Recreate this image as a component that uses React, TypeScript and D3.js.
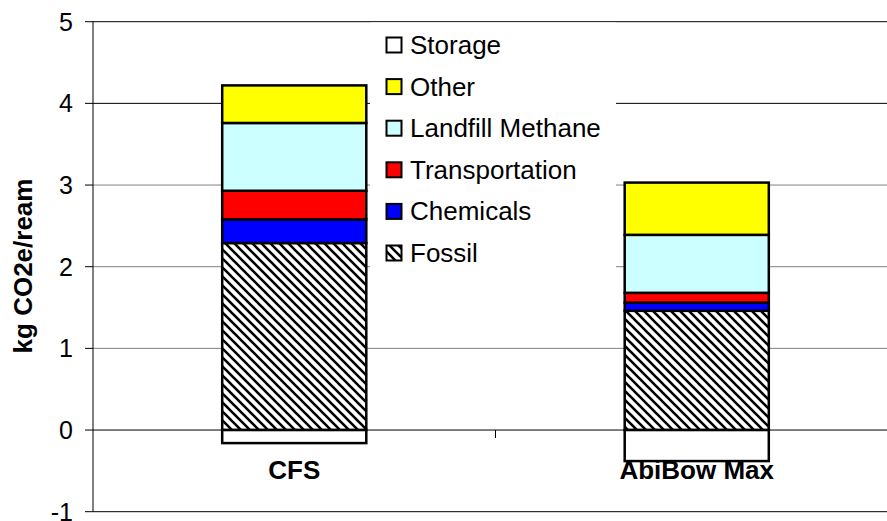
import React from "react";
import * as d3 from "d3";

const categories = ["CFS", "AbiBow Max"];
const seriesNames = ["Fossil", "Chemicals", "Transportation", "Landfill Methane", "Other", "Storage"];
const fossil = [2.29, 1.46];
const chemicals = [0.29, 0.10];
const transportation = [0.35, 0.12];
const landfillMethane = [0.83, 0.71];
const other = [0.46, 0.64];
const storage = [-0.16, -0.38];
const yTicks = [-1, 0, 1, 2, 3, 4, 5];
const legendOrder = ["Storage", "Other", "Landfill Methane", "Transportation", "Chemicals", "Fossil"];

const seriesValues: Record<string, number[]> = {
  Fossil: fossil,
  Chemicals: chemicals,
  Transportation: transportation,
  "Landfill Methane": landfillMethane,
  Other: other,
  Storage: storage,
};

const fills: Record<string, string> = {
  Fossil: "url(#hatch)",
  Chemicals: "#0000ff",
  Transportation: "#ff0000",
  "Landfill Methane": "#ccffff",
  Other: "#ffff00",
  Storage: "#ffffff",
};

const W = 887;
const H = 521;
const FONT = "'Liberation Sans', Arial, sans-serif";

export default function App() {
  const plotLeft = 93;
  const plotRight = 898;
  const y = d3.scaleLinear().domain([-1, 5]).range([511.7, 21.7]);
  const x = d3.scaleBand<string>().domain(categories).range([plotLeft, plotRight]).padding(0);
  const barW = x.bandwidth() * 0.358;

  const table = categories.map((c, i) => {
    const row: Record<string, any> = { cat: c };
    seriesNames.forEach((s) => (row[s] = seriesValues[s][i]));
    return row;
  });
  const stack = d3.stack<any>().keys(seriesNames).offset(d3.stackOffsetDiverging);
  const layers = stack(table);

  const gridColor = (v: number) => (v >= 1 && v <= 3 ? "#808080" : "#000000");

  return (
    <svg width={W} height={H} style={{ position: "absolute", left: 0, top: 0, background: "#fff" }}>
      <defs>
        <pattern id="hatch" patternUnits="userSpaceOnUse" width={9} height={9}>
          <rect width={9} height={9} fill="#fff" />
          <path d="M-1,-1 L10,10 M-5,4 L5,14 M4,-5 L14,5" stroke="#000" strokeWidth={2.6} />
        </pattern>
      </defs>
      <rect x={0} y={0} width={W} height={H} fill="#fff" />
      {yTicks.map((t) => (
        <line key={t} x1={plotLeft} x2={W} y1={y(t)} y2={y(t)} stroke={gridColor(t)} strokeWidth={1} />
      ))}
      {layers.map((layer) => (
        <g key={layer.key}>
          {layer.map((d, i) => {
            const cx = (x(categories[i]) as number) + x.bandwidth() / 2;
            const y0 = y(Math.max(d[0], d[1]));
            const y1 = y(Math.min(d[0], d[1]));
            return (
              <rect
                key={i}
                x={cx - barW / 2}
                y={y0}
                width={barW}
                height={y1 - y0}
                fill={fills[layer.key]}
                stroke="#000"
                strokeWidth={2.5}
              />
            );
          })}
        </g>
      ))}
      {categories.slice(1).map((c) => (
        <line key={c} x1={x(c)} x2={x(c)} y1={y(0)} y2={y(0) + 8} stroke="#000" strokeWidth={1} />
      ))}
      <rect x={370} y={22.5} width={246} height={252} fill="#fff" />
      {legendOrder.map((s, i) => {
        const cy = 45 + i * 41.6;
        return (
          <g key={s}>
            <rect x={386.5} y={cy - 7.5} width={15} height={15} fill={fills[s]} stroke="#000" strokeWidth={2} />
            <text x={410} y={cy + 9} fontFamily={FONT} fontSize={26} fill="#000">
              {s}
            </text>
          </g>
        );
      })}
      <line x1={plotLeft} x2={plotLeft} y1={y(5)} y2={y(-1)} stroke="#000" strokeWidth={1} />
      {yTicks.map((t) => (
        <g key={t}>
          <line x1={plotLeft - 8} x2={plotLeft} y1={y(t)} y2={y(t)} stroke="#000" strokeWidth={1} />
          <text x={73} y={y(t) + 9} textAnchor="end" fontFamily={FONT} fontSize={25} fill="#000">
            {t}
          </text>
        </g>
      ))}
      {categories.map((c) => (
        <text
          key={c}
          x={(x(c) as number) + x.bandwidth() / 2}
          y={479}
          textAnchor="middle"
          fontFamily={FONT}
          fontWeight="bold"
          fontSize={26}
          fill="#000"
        >
          {c}
        </text>
      ))}
      <text
        transform={`translate(32,266) rotate(-90)`}
        textAnchor="middle"
        fontFamily={FONT}
        fontWeight="bold"
        fontSize={26}
        fill="#000"
      >
        kg CO2e/ream
      </text>
    </svg>
  );
}
